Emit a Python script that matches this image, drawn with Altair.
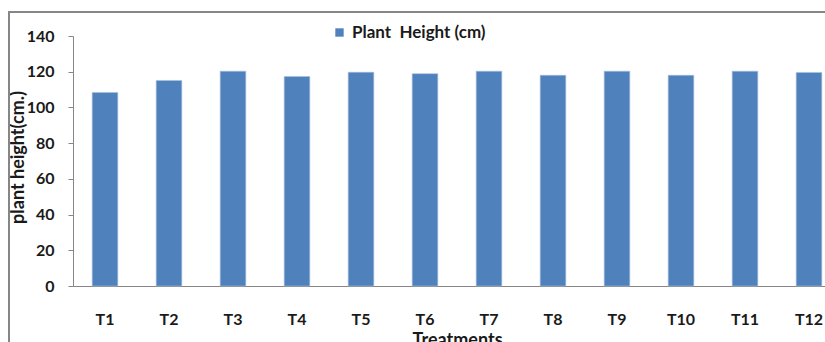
import altair as alt
import pandas as pd

# Plant height per treatment
treatments = ["T1", "T2", "T3", "T4", "T5", "T6", "T7", "T8", "T9", "T10", "T11", "T12"]
heights = [108.4, 115.1, 120.3, 117.3, 119.7, 118.9, 120.3, 118.0, 120.3, 118.0, 120.3, 119.6]
series_name = "Plant\u00a0 Height (cm)"

df = pd.DataFrame({"treatment": treatments, "height": heights, "series": series_name})

FONT = "Lato"
GRAY = "#868686"
TEXT = "#1a1a1a"

bars = alt.Chart(df).mark_bar(color="#4F81BD", stroke="#A7BFDE", strokeWidth=0.6).encode(
    x=alt.X(
        "treatment:N",
        sort=treatments,
        scale=alt.Scale(range=[0, 768], paddingInner=0.6, paddingOuter=0.3),
        axis=alt.Axis(
            title="Treatments",
            labelAngle=0,
            ticks=False,
            domainColor=GRAY,
            labelPadding=25,
            labelBaseline="top",
            labelFont=FONT,
            labelFontSize=16,
            labelFontWeight="bold",
            labelColor=TEXT,
            titleFont=FONT,
            titleFontSize=18,
            titleFontWeight="bold",
            titleColor=TEXT,
            titleX=384,
            titleY=45,
            titleBaseline="top",
        ),
    ),
    y=alt.Y(
        "height:Q",
        scale=alt.Scale(domain=[0, 140]),
        axis=alt.Axis(
            title="plant height(cm.)",
            values=[0, 20, 40, 60, 80, 100, 120, 140],
            grid=False,
            tickSize=5,
            tickColor=GRAY,
            domainColor=GRAY,
            labelPadding=14,
            labelFont=FONT,
            labelFontSize=16,
            labelFontWeight="bold",
            labelColor=TEXT,
            titleFont="Lato",
            titleFontSize=18,
            titleFontWeight="bold",
            titleColor=TEXT,
            titleAngle=-90,
            titleX=-55,
            titleY=121,
            titleAlign="center",
            titleBaseline="middle",
        ),
    ),
    color=alt.Color(
        "series:N",
        scale=alt.Scale(range=["#4F81BD"]),
        legend=alt.Legend(
            title=None,
            orient="none",
            legendX=258,
            legendY=-12,
            symbolType="square",
            symbolSize=70,
            symbolStrokeWidth=0,
            labelFont=FONT,
            labelFontSize=17,
            labelFontWeight="bold",
            labelColor=TEXT,
        ),
    ),
)

# Outer chart border
frame = alt.Chart(df).mark_rect(fill=None, stroke=GRAY, strokeWidth=1.5, clip=False).encode(
    x=alt.value(-64), x2=alt.value(800), y=alt.value(-24), y2=alt.value(400)
)

chart = (
    alt.layer(frame, bars)
    .properties(
        width=752,
        height=250,
        autosize=alt.AutoSizeParams(type="none"),
        padding={"left": 73, "top": 36, "right": 0, "bottom": 56},
        background="white",
    )
    .configure_view(stroke=None)
)

chart.save("out.html", embed_options={"renderer": "svg", "actions": False})
